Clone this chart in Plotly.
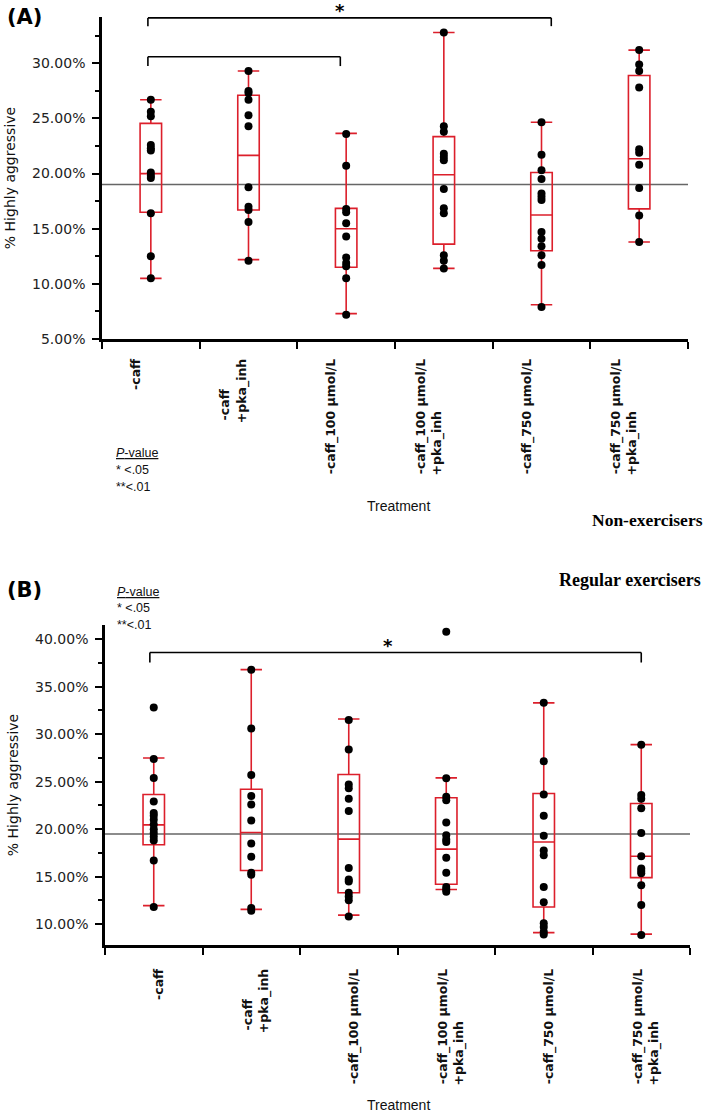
import plotly.graph_objects as go

W, H = 709, 1113

TREATMENTS = ["-caff", "-caff +pka_inh", "-caff_100", "-caff_100 +pka_inh", "-caff_750", "-caff_750 +pka_inh"]
LABEL_LINES = [
    ["-caff"],
    ["-caff", "+pka_inh"],
    ["-caff_100 µmol/L"],
    ["-caff_100 µmol/L", "+pka_inh"],
    ["-caff_750 µmol/L"],
    ["-caff_750 µmol/L", "+pka_inh"],
]

# (A) non-exercisers, % highly aggressive
NON_Q1 = [16.5, 16.7, 11.5, 13.6, 13.0, 16.8]
NON_MEDIAN = [20.0, 21.65, 15.0, 19.9, 16.25, 21.35]
NON_Q3 = [24.55, 27.1, 16.85, 23.35, 20.1, 28.9]
NON_LOW = [10.5, 12.2, 7.3, 11.4, 8.1, 13.8]
NON_HIGH = [26.7, 29.3, 23.65, 32.8, 24.65, 31.2]
NON_POINTS = [
    [26.7, 25.6, 25.2, 22.6, 22.3, 22.1, 20.1, 19.8, 19.6, 16.4, 12.5, 10.5],
    [29.3, 27.5, 27.3, 26.7, 25.3, 24.3, 18.75, 17.0, 16.7, 15.6, 12.1],
    [23.6, 20.7, 16.8, 16.5, 15.5, 14.3, 12.4, 11.9, 11.6, 10.5, 7.2],
    [32.8, 24.3, 23.8, 21.8, 21.5, 21.2, 18.6, 16.85, 16.4, 12.6, 12.1, 11.4],
    [24.65, 21.7, 20.3, 19.5, 18.2, 17.9, 17.6, 14.7, 14.1, 13.4, 12.6, 11.7, 7.9],
    [31.2, 29.9, 29.3, 27.8, 22.2, 21.9, 20.8, 18.7, 16.2, 13.8],
]
NON_REF = 19.0
NON_RANGE = [5, 34.2]

# (B) regular exercisers
REG_Q1 = [18.35, 15.65, 13.3, 14.2, 11.8, 14.9]
REG_MEDIAN = [20.45, 19.65, 18.95, 17.9, 18.65, 17.15]
REG_Q3 = [23.65, 24.2, 25.75, 23.3, 23.75, 22.7]
REG_LOW = [11.95, 11.55, 10.95, 13.65, 9.1, 8.95]
REG_HIGH = [27.5, 36.8, 31.6, 25.4, 33.3, 28.9]
REG_POINTS = [
    [32.8, 27.4, 25.4, 22.9, 21.7, 21.4, 21.0, 20.5, 20.0, 19.6, 19.2, 18.8, 16.7, 11.8],
    [36.8, 30.6, 25.7, 23.5, 22.6, 20.9, 18.5, 17.1, 15.4, 15.2, 11.7, 11.4],
    [31.5, 28.4, 24.7, 24.3, 23.2, 21.9, 15.9, 14.7, 14.5, 13.3, 12.9, 12.5, 10.8],
    [40.8, 25.35, 23.4, 23.05, 20.7, 19.35, 18.9, 18.65, 17.0, 15.4, 13.9, 13.65, 13.4],
    [33.3, 27.15, 23.65, 21.4, 19.3, 17.75, 17.25, 13.9, 12.3, 10.1, 9.7, 9.2, 8.9],
    [28.9, 23.6, 23.2, 22.2, 19.6, 17.15, 15.85, 15.6, 15.35, 14.1, 12.0, 8.85],
]
REG_REF = 19.5
REG_RANGE = [7.8, 41.5]

# significance brackets: (from index, to index, level, drop)
NON_BRACKETS = [(-0.03, 4.1, 34.12, 0.75), (-0.03, 1.94, 30.6, 0.85)]
REG_BRACKETS = [(-0.04, 5.0, 38.6, 1.05)]

RED = "#dc1f2b"
AXIS_FONT = "DejaVu Sans"

# rough DejaVu Sans Bold advance widths (em) used to left-align stacked label lines
CHAR_EM = {"-": 0.415, "c": 0.593, "a": 0.675, "f": 0.435, "_": 0.5, "1": 0.696, "0": 0.696,
           "7": 0.696, "5": 0.696, " ": 0.348, "µ": 0.721, "m": 1.042, "o": 0.687, "l": 0.343,
           "/": 0.365, "L": 0.637, "+": 0.838, "p": 0.716, "k": 0.665, "i": 0.343, "n": 0.712,
           "h": 0.712}


def text_em(s):
    return sum(CHAR_EM.get(ch, 0.65) for ch in s)


def stacked_label(lines):
    # rotated tick labels are end-anchored; pad short lines so all lines start together
    longest = max(text_em(s) for s in lines)
    out = []
    for s in lines:
        n = int(round((longest - text_em(s)) / CHAR_EM[" "]))
        out.append(s + "\u00a0" * n)
    return "<br>".join(out)


TICK_LABELS = [stacked_label(lines) for lines in LABEL_LINES]


def px_x(p):
    return p / W


def px_y(p):
    return 1 - p / H


fig = go.Figure()


def add_panel(n, q1, med, q3, low, high, points):
    xa, ya = ("x", "y") if n == 1 else ("x2", "y2")
    fig.add_trace(go.Box(
        x=TREATMENTS, q1=q1, median=med, q3=q3, lowerfence=low, upperfence=high,
        boxpoints=False, width=0.22, whiskerwidth=1,
        line=dict(color=RED, width=1.6), fillcolor="rgba(0,0,0,0)",
        xaxis=xa, yaxis=ya, showlegend=False, hoverinfo="skip",
    ))
    xs, ys = [], []
    for cat, vals in zip(TREATMENTS, points):
        xs += [cat] * len(vals)
        ys += vals
    fig.add_trace(go.Scatter(
        x=xs, y=ys, mode="markers", marker=dict(color="black", size=8),
        xaxis=xa, yaxis=ya, showlegend=False, cliponaxis=False,
    ))


add_panel(1, NON_Q1, NON_MEDIAN, NON_Q3, NON_LOW, NON_HIGH, NON_POINTS)
add_panel(2, REG_Q1, REG_MEDIAN, REG_Q3, REG_LOW, REG_HIGH, REG_POINTS)

xcommon = dict(
    type="category", categoryorder="array", categoryarray=TREATMENTS,
    tickvals=TREATMENTS, ticktext=TICK_LABELS, tickangle=-90,
    tickson="boundaries", ticks="outside", ticklen=7, tickwidth=2, tickcolor="black",
    showline=True, linecolor="black", linewidth=2.5, showgrid=False, zeroline=False,
    tickfont=dict(family=AXIS_FONT, size=12.5, color="#111", weight="bold"),
    range=[-0.5, 5.5], automargin=False,
)
ycommon = dict(
    ticks="outside", ticklen=7, tickwidth=2, tickcolor="black", dtick=5,
    minor=dict(ticks="outside", ticklen=4, tickwidth=1.5, tickcolor="black", dtick=2.5),
    showline=True, linecolor="black", linewidth=2.5, showgrid=False, zeroline=False,
    ticksuffix="%", tickformat=".2f", ticklabelstandoff=4, automargin=False,
    tickfont=dict(family=AXIS_FONT, size=14, color="#222"),
    title=dict(text="% Highly aggressive", font=dict(family=AXIS_FONT, size=14, color="#111"), standoff=14),
)

fig.update_layout(
    width=W, height=H,
    margin=dict(l=0, r=0, t=0, b=0),
    paper_bgcolor="white", plot_bgcolor="white",
    xaxis=dict(xcommon, domain=[px_x(102), px_x(688)], anchor="y",
               ticklabelshift=-15, ticklabelstandoff=12),
    yaxis=dict(ycommon, domain=[px_y(339), px_y(17)], anchor="x", range=NON_RANGE, tick0=5),
    xaxis2=dict(xcommon, domain=[px_x(105), px_x(690)], anchor="y2",
                ticklabelshift=5, ticklabelstandoff=16),
    yaxis2=dict(ycommon, domain=[px_y(945), px_y(625)], anchor="x2", range=REG_RANGE, tick0=10),
)

shapes = []
for xr, yr, ref in [("x", "y", NON_REF), ("x2", "y2", REG_REF)]:
    shapes.append(dict(type="line", xref=xr + " domain", yref=yr, x0=0, x1=1, y0=ref, y1=ref,
                       line=dict(color="#666", width=1.5), layer="below"))

for xr, yr, brs in [("x", "y", NON_BRACKETS), ("x2", "y2", REG_BRACKETS)]:
    for a, b, lvl, drop in brs:
        for x0, y0, x1, y1 in [(a, lvl, b, lvl), (a, lvl, a, lvl - drop), (b, lvl, b, lvl - drop)]:
            shapes.append(dict(type="line", xref=xr, yref=yr, x0=x0, x1=x1, y0=y0, y1=y1,
                               line=dict(color="black", width=1.6)))
fig.update_layout(shapes=shapes)

ann = []
ann.append(dict(text="*", x=1.94, y=px_y(10), xref="x", yref="paper", showarrow=False,
                yanchor="middle", font=dict(family=AXIS_FONT, size=18, color="black", weight="bold")))
ann.append(dict(text="*", x=2.4, y=39.3, xref="x2", yref="y2", showarrow=False,
                font=dict(family=AXIS_FONT, size=18, color="black", weight="bold")))

for label, yy in [("(A)", 17), ("(B)", 590)]:
    ann.append(dict(text="<b>%s</b>" % label, x=px_x(5), y=px_y(yy), xref="paper", yref="paper",
                    xanchor="left", yanchor="middle", showarrow=False,
                    font=dict(family=AXIS_FONT, size=21, color="black")))

for txt, xx, yy, sz in [("Non-exercisers", 647, 520, 17.5), ("Regular exercisers", 630, 580, 18)]:
    ann.append(dict(text="<b>%s</b>" % txt, x=px_x(xx), y=px_y(yy), xref="paper", yref="paper",
                    xanchor="center", yanchor="middle", showarrow=False,
                    font=dict(family="Liberation Serif", size=sz, color="black")))

for xx, yy in [(398, 506), (398, 1105)]:
    ann.append(dict(text="Treatment", x=px_x(xx), y=px_y(yy), xref="paper", yref="paper",
                    xanchor="center", yanchor="middle", showarrow=False,
                    font=dict(family="Liberation Sans", size=14, color="#111")))

for x0, ys in [(114, (453, 470, 487)), (115, (592, 608, 625))]:
    for txt, yy in zip(["<u><i>P</i>-value</u>", "* <.05", "**<.01"], ys):
        ann.append(dict(text=txt, x=px_x(x0), y=px_y(yy), xref="paper", yref="paper",
                        xanchor="left", yanchor="middle", showarrow=False,
                        font=dict(family="Liberation Sans", size=12.5, color="#111")))

fig.update_layout(annotations=ann)

# the page body has a default 8px margin; drop it so the figure sits at the window corner
fig.write_html("out.html", config={"displayModeBar": False},
               post_script="document.body.style.margin = '0';")
